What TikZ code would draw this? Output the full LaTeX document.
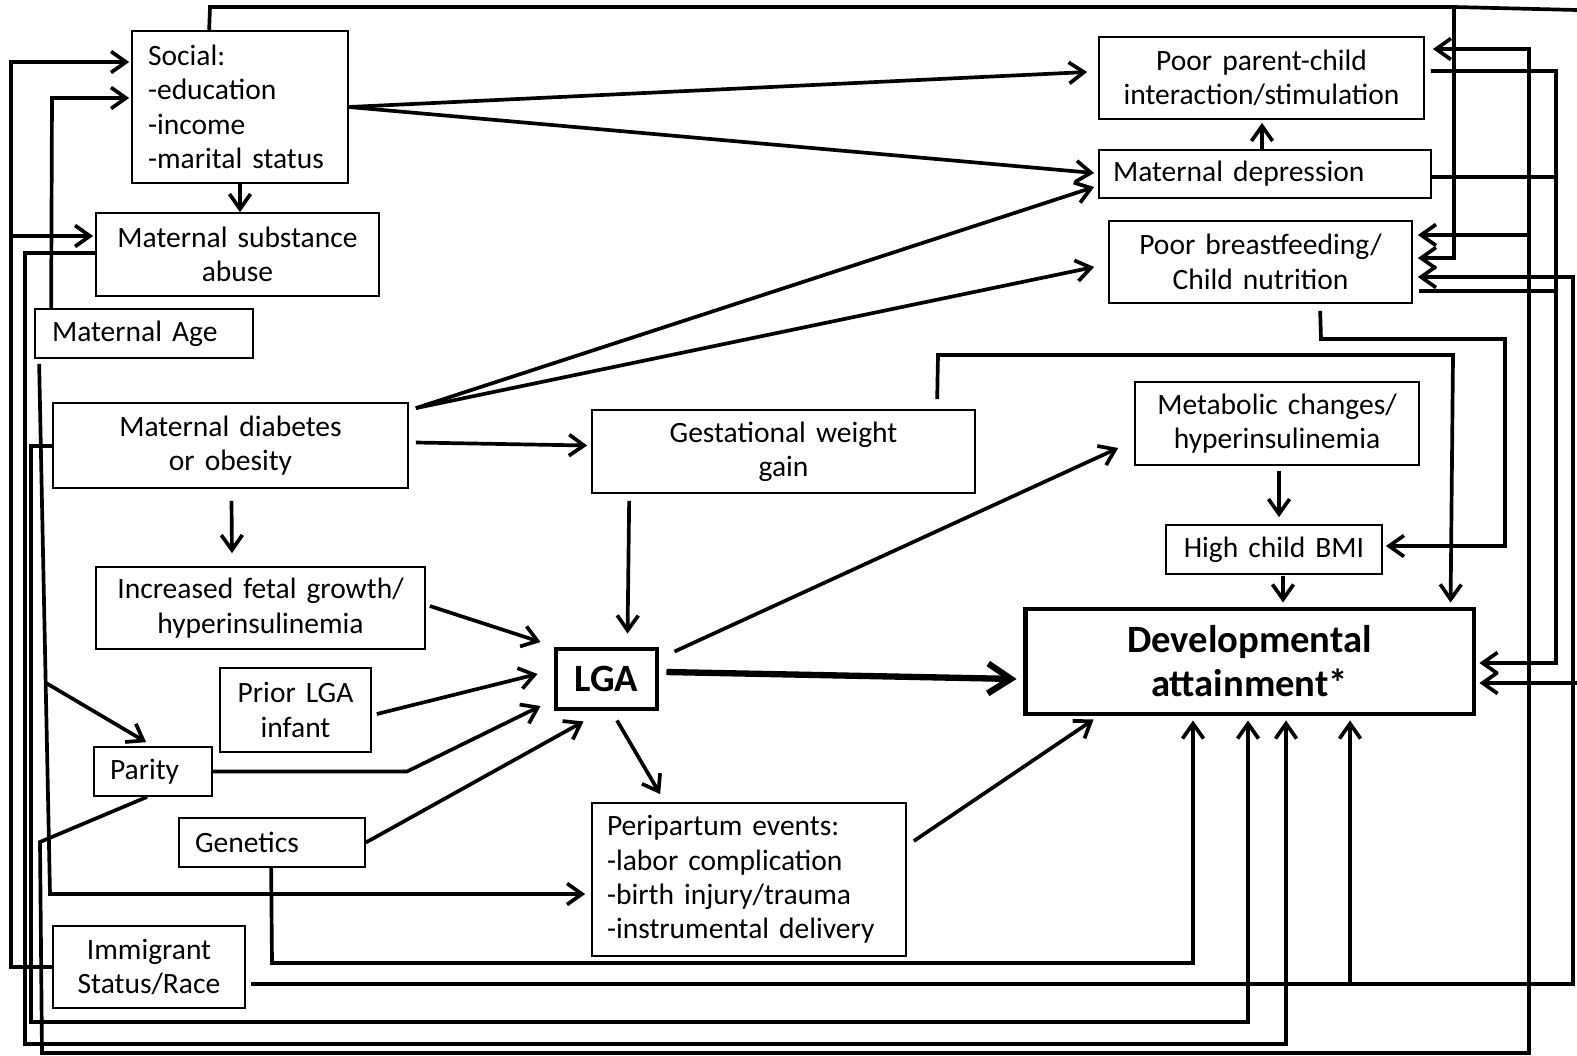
\documentclass[tikz,border=0pt]{standalone}
\usepackage{fontspec}
\setmainfont{Carlito}
\usetikzlibrary{arrows.meta,calc}
\tikzset{
  box/.style={draw, line width=1.0pt, inner sep=0pt, align=center,
    font=\fontsize{16.8}{19.6}\selectfont, execute at begin node={\spaceskip=0.34em plus 0.1em\relax}},
  thickbox/.style={draw, line width=2.8pt, inner sep=0pt, align=center,
    font=\fontsize{22}{25}\selectfont\bfseries},
  conn/.style={line width=2.1pt, line join=miter},
  connarr/.style={line width=2.1pt, line join=miter, -{Straight Barb[length=8.5pt,width=12pt]}},
  bigarr/.style={line width=3.6pt, -{Straight Barb[length=13pt,width=17pt]}},
}
\begin{document}
\begin{tikzpicture}[x=0.02cm,y=-0.02cm]
\path[use as bounding box] (0,0) rectangle (1577,1055);
\clip (0,0) rectangle (1577,1055);

% nodes
\node[box, minimum width=4.32cm, minimum height=3.04cm, align=left, text width=3.68cm] (social) at (240,107) {Social:\\-education\\-income\\-marital status};
\node[box, minimum width=5.66cm, minimum height=1.66cm] (subst) at (237.5,254.5) {Maternal substance\\abuse};
\node[box, minimum width=4.36cm, minimum height=0.98cm, align=left, text width=3.68cm] (age) at (144,333.5) {Maternal Age};
\node[box, minimum width=7.10cm, minimum height=1.70cm] (diab) at (230.5,445.5) {Maternal diabetes\\or obesity};
\node[box, minimum width=6.58cm, minimum height=1.64cm] (fetal) at (260.5,608) {Increased fetal growth/\\hyperinsulinemia};
\node[box, minimum width=3.02cm, minimum height=1.68cm] (prior) at (295.5,710) {Prior LGA\\infant};
\node[box, minimum width=2.36cm, minimum height=0.98cm, align=left, text width=1.72cm] (parity) at (153,771.5) {Parity};
\node[box, minimum width=3.72cm, minimum height=0.98cm, align=left, text width=3.08cm] (gen) at (272,842.5) {Genetics};
\node[box, minimum width=3.84cm, minimum height=1.64cm] (immig) at (149,967) {Immigrant\\Status/Race};
\node[box, minimum width=7.66cm, minimum height=1.66cm] (gwg) at (783.5,451.5) {Gestational weight\\gain};
\node[thickbox, minimum width=2.02cm, minimum height=1.20cm] (lga) at (606.5,679) {LGA};
\node[box, minimum width=6.28cm, minimum height=3.06cm, align=left, text width=5.68cm] (peri) at (749,879.5) {Peripartum events:\\-labor complication\\-birth injury/trauma\\-instrumental delivery};
\node[thickbox, minimum width=8.98cm, minimum height=2.10cm] (dev) at (1249.5,661.5) {Developmental\\attainment*};
\node[box, minimum width=6.50cm, minimum height=1.64cm] (parent) at (1261.5,78) {Poor parent-child\\interaction/stimulation};
\node[box, minimum width=6.64cm, minimum height=0.96cm, align=left, text width=6.08cm] (dep) at (1265,174) {Maternal depression};
\node[box, minimum width=6.06cm, minimum height=1.64cm] (bf) at (1260.5,262) {Poor breastfeeding/\\Child nutrition};
\node[box, minimum width=5.68cm, minimum height=1.66cm] (meta) at (1277,423.5) {Metabolic changes/\\hyperinsulinemia};
\node[box, minimum width=4.32cm, minimum height=0.98cm] (bmi) at (1274,549.5) {High child BMI};

% junction coordinates
\coordinate (jtop) at (1454,7);
\coordinate (jpar) at (1529,235);
\coordinate (jimm) at (1350,984);
\coordinate (jleft) at (11,236);
\coordinate (abr) at (46.03,683);

% short connectors
\draw[connarr] (social.south) -- (social.south |- subst.north);
\draw[connarr] (social.east) -- ($(parent.west)+(-11,-6)$);
\draw[connarr] (social.east) -- ($(dep.west)+(-4,-1)$);
\draw[connarr] ($(diab.north east)+(7,6)$) -- ($(dep.west)+(-4,13)$);
\draw[connarr] ($(diab.north east)+(7,6)$) -- ($(bf.west)+(-14,5)$);
\draw[connarr] ($(diab.east)+(7,-3)$) -- ($(gwg.west)+(-4,-6)$);
\draw[connarr] ($(diab.south)+(1,12)$) -- ($(fetal.north)+(-28.5,-13)$);
\draw[connarr] ($(fetal.east)+(4,-2)$) -- ($(lga.west)+(-13,-37)$);
\draw[connarr] ($(prior.east)+(5,4)$) -- ($(lga.west)+(-16,-5)$);
\draw[connarr] (parity.east) -- (407,771.5) -- ($(lga.west)+(-13,27)$);
\draw[connarr] (gen.east) -- ($(lga.south west)+(30,10)$);
\draw[connarr] ($(gwg.south west)+(38,7)$) -- ($(lga.north west)+(74,-13)$);
\draw[bigarr] ($(lga.east)+(7,-7)$) -- ($(dev.west)+(-6,17.5)$);
\draw[connarr] ($(lga.north east)+(15,5)$) -- ($(meta.west)+(-16,24.5)$);
\draw[connarr] ($(lga.south)+(10.5,9)$) -- ($(peri.north west)+(69,-8)$);
\draw[connarr] ($(peri.east)+(7,-38.5)$) -- ($(dev.south west)+(71,3)$);
\draw[connarr] ($(meta.south)+(2,5)$) -- ($(bmi.north)+(5,-7)$);
\draw[connarr] ($(bmi.south)+(9,1)$) -- ($(dev.north)+(33.5,-4)$);
\draw[connarr] ($(dep.north)+(-3,0)$) -- ($(parent.south)+(0.5,3)$);

% long routed connectors
\draw[connarr] ($(social.north west)+(78,0)$) -- (210,7) -- (jtop) -- (1577,10) -- (1592,10) -- (1592,683) -- ($(dev.east)+(3,21.5)$);
\draw[connarr] (jtop) -- (1454,258) -- ($(bf.east)+(5,-4)$);
\draw[connarr] ($(parity.south west)+(54,0)$) -- (40,842) -- (42,1053) -- (1529,1053) -- (1529,49) -- ($(parent.east)+(8,-29)$);
\draw[connarr] (jpar) -- ($(bf.east)+(5,-27)$);
\draw[connarr] ($(parent.east)+(6,-7)$) -- (1556,71) -- (1556,663) -- ($(dev.east)+(3,1.5)$);
\draw[conn] ($(dep.east)+(0,3)$) -- (1556,177);
\draw[conn] ($(bf.east)+(6,29)$) -- (1556,291);
\draw[connarr] ($(immig.east)+(5,17)$) -- (1573,984) -- (1573,277) -- ($(bf.east)+(5,15)$);
\draw[connarr] (jimm) -- ($(dev.south)+(100.5,4)$);
\draw[connarr] (immig.west) -- (11,967) -- (11,62) -- ($(social.west)+(-2,-45)$);
\draw[connarr] (jleft) -- ($(subst.west)+(-2,-18.5)$);
\draw[connarr] ($(age.north west)+(17,0)$) -- (52,98) -- ($(social.west)+(-2,-9)$);
\draw[connarr] ($(age.south west)+(5,5)$) -- (50,894) -- ($(peri.west)+(-6,14.5)$);
\draw[connarr] (abr) -- ($(parity.north west)+(53,-4)$);
\draw[connarr] ($(gen.south west)+(93,0)$) -- (272,963) -- (1193,963) -- ($(dev.south)+(-56.5,4)$);
\draw[connarr] ($(diab.west)+(0,0.5)$) -- (31,446) -- (31,1022) -- (1248,1022) -- ($(dev.south)+(-1.5,4)$);
\draw[connarr] ($(subst.west)+(0,-1.5)$) -- (25,253) -- (25,1044) -- (1286,1044) -- ($(dev.south)+(36.5,4)$);
\draw[connarr] ($(gwg.north west)+(346,-10)$) -- (938,355) -- (1453,355) -- ($(dev.north west)+(428,-4)$);
\draw[connarr] ($(bf.south west)+(212,7)$) -- (1321,339) -- (1505,339) -- (1505,546) -- ($(bmi.east)+(3,-3.5)$);
\end{tikzpicture}
\end{document}
